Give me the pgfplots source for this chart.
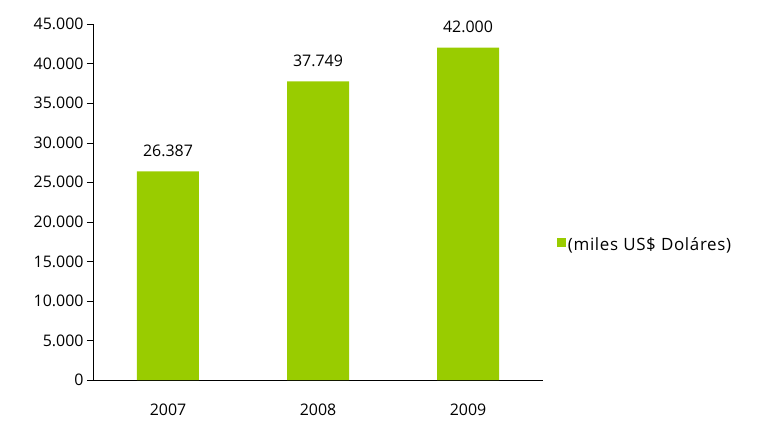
\documentclass[border=0pt]{standalone}
\usepackage{pgfplots}
\pgfplotsset{compat=1.18}
\usepackage{fontspec}
\setmainfont{Open Sans}
\definecolor{bargreen}{RGB}{153,204,0}
\begin{document}
\begin{tikzpicture}
\begin{axis}[
  at={(0,0)}, anchor=south west,
  scale only axis, width=450bp, height=356bp,
  font=\fontsize{16}{19}\selectfont,
  xmin=-0.5, xmax=2.5, ymin=0, ymax=45000,
  axis x line*=bottom, axis y line*=left,
  ytick={0,5000,...,45000},
  xtick={0,1,2}, xticklabels={2007,2008,2009},
  extra x ticks={-0.5,0.5,1.5,2.5}, extra x tick labels={},
  extra x tick style={major tick length=6bp, tick style={black}, tick align=outside},
  x tick style={draw=none},
  y tick style={black}, tick align=outside, major tick length=6bp,
  scaled y ticks=false,
  /pgf/number format/assume math mode=true,
  /pgf/number format/1000 sep={.},
  /pgf/number format/fixed,
  xticklabel style={yshift=-14bp},
  ybar, bar width=62bp,
  nodes near coords,
  every node near coord/.append style={yshift=11bp},
  legend style={at={(1.025,0.38)}, anchor=west, draw=none, font=\fontsize{17}{20}\selectfont\addfontfeatures{LetterSpace=4}},
  legend image code/.code={\fill[bargreen] (0.1em,-0.45ex) rectangle (0.95em,1.35ex);},
  axis line style={black},
]
\addplot[fill=bargreen, draw=none] coordinates {(0,26387) (1,37749) (2,42000)};
\addlegendentry{(miles US\$ Doláres)}
\end{axis}
\path[use as bounding box] (-93bp,-41bp) rectangle (673bp,380bp);
\end{tikzpicture}
\end{document}
